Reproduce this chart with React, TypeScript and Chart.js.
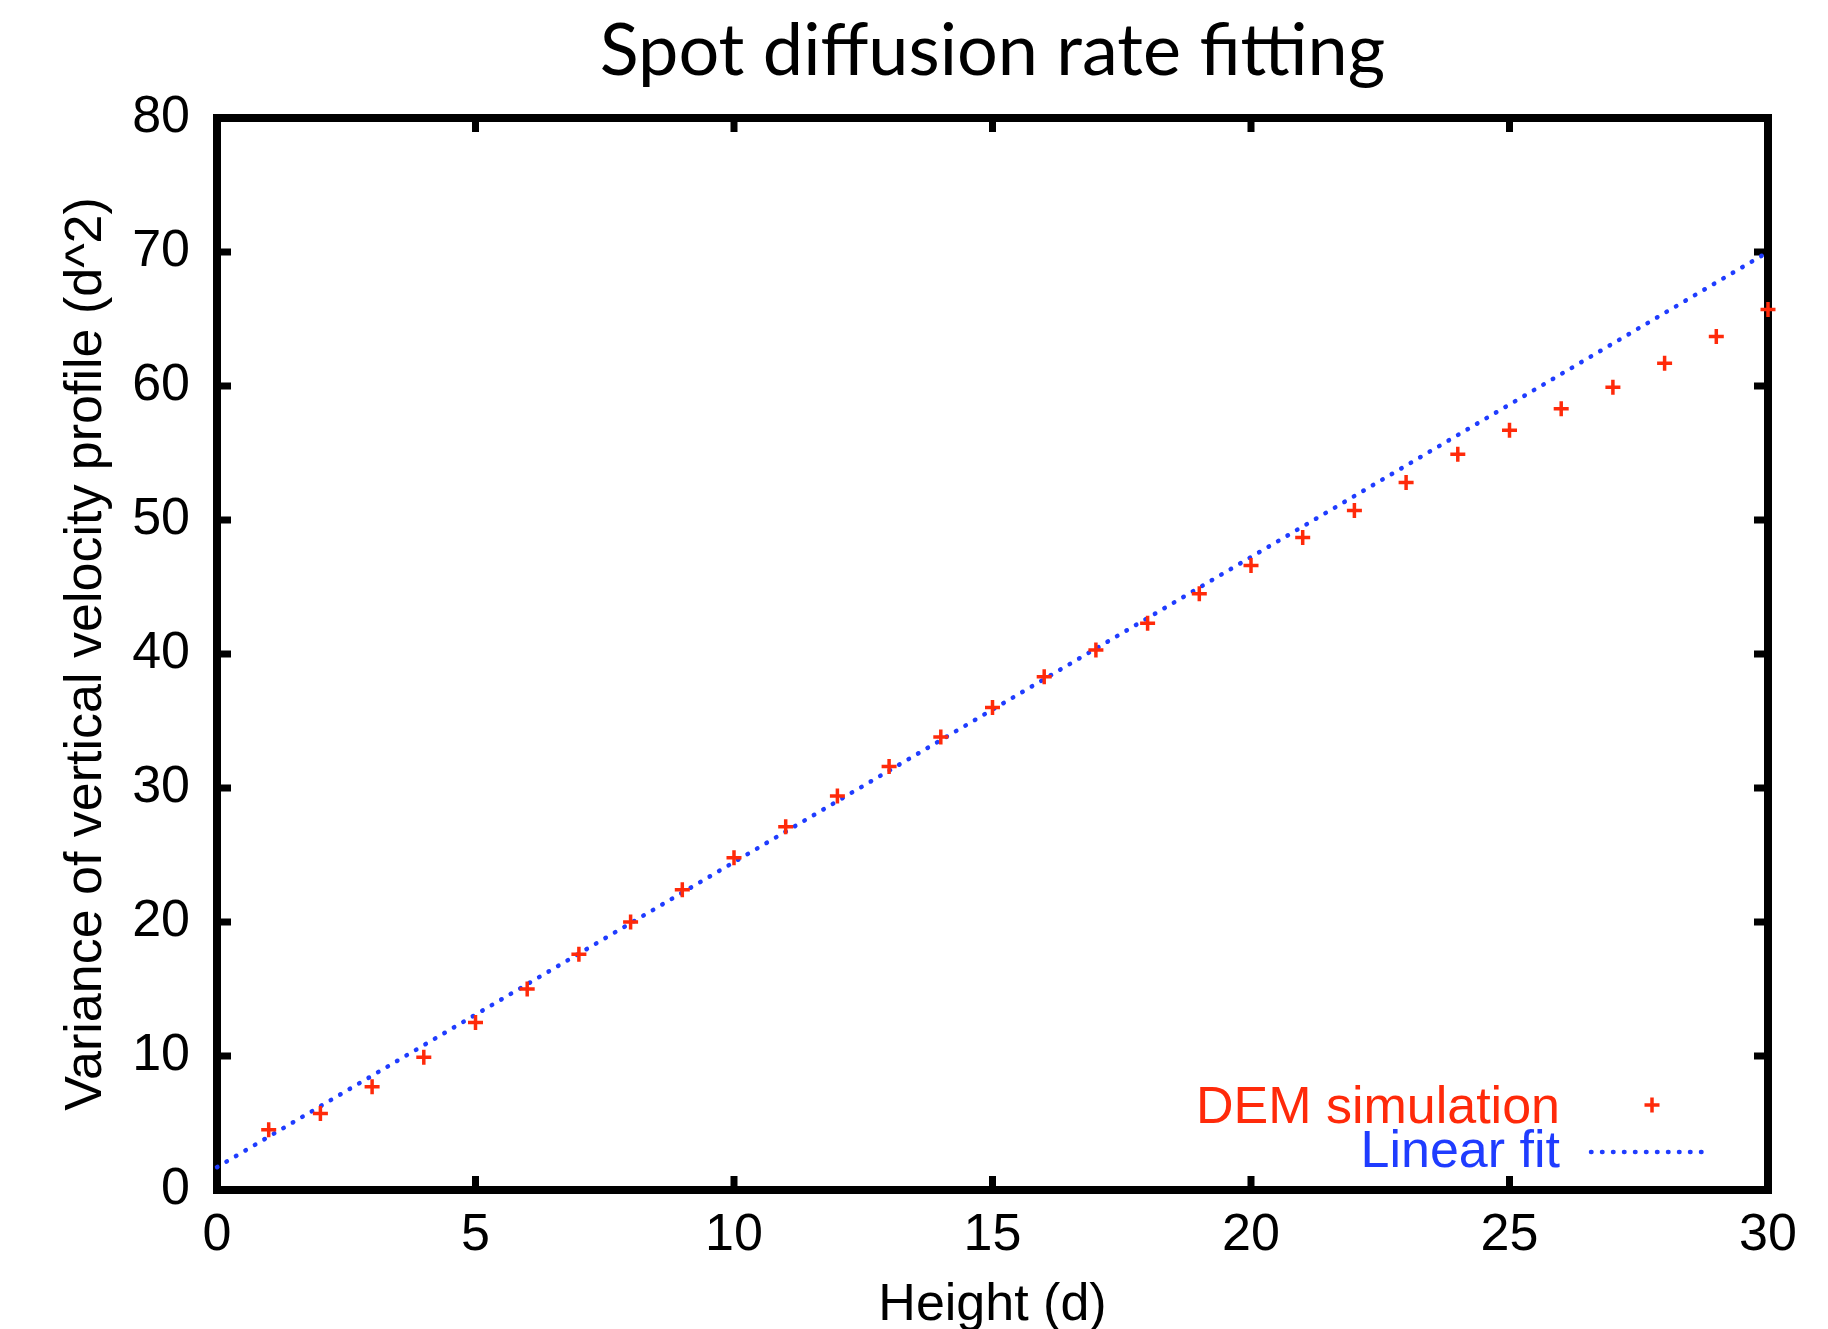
import { useEffect, useRef } from "react";
import { Chart, registerables } from "chart.js";

Chart.register(...registerables);

const chartTitle = "Spot diffusion rate fitting";
const xAxisTitle = "Height (d)";
const yAxisTitle = "Variance of vertical velocity profile (d^2)";
const seriesNames = ["DEM simulation", "Linear fit"];

const heights = [1, 2, 3, 4, 5, 6, 7, 8, 9, 10, 11, 12, 13, 14, 15, 16, 17, 18, 19, 20, 21, 22, 23, 24, 25, 26, 27, 28, 29, 30];
const demVariance = [4.5, 5.7, 7.7, 9.9, 12.5, 15.0, 17.6, 20.0, 22.4, 24.8, 27.1, 29.4, 31.6, 33.8, 36.0, 38.3, 40.3, 42.3, 44.5, 46.6, 48.7, 50.7, 52.8, 54.9, 56.7, 58.3, 59.9, 61.7, 63.7, 65.7];
const fitHeights = [0, 30];
const fitVariance = [1.7, 70.0];

const xTickValues = [0, 5, 10, 15, 20, 25, 30];
const yTickValues = [0, 10, 20, 30, 40, 50, 60, 70, 80];

const RED = "#ff2a0a";
const BLUE = "#1f3cff";
const AXIS_FONT = "'Liberation Sans', Arial, sans-serif";

const framePlugin = {
  id: "frameTicks",
  beforeDatasetsDraw(chart: any) {
    const { ctx, chartArea } = chart;
    const { left, right, top, bottom } = chartArea;
    const xs = chart.scales.x;
    const ys = chart.scales.y;
    const tickLen = 14;
    ctx.save();
    ctx.strokeStyle = "#000";
    ctx.lineWidth = 7;
    ctx.lineCap = "butt";
    ctx.beginPath();
    xTickValues.forEach((v) => {
      const px = xs.getPixelForValue(v);
      ctx.moveTo(px, bottom);
      ctx.lineTo(px, bottom - tickLen);
      ctx.moveTo(px, top);
      ctx.lineTo(px, top + tickLen);
    });
    yTickValues.forEach((v) => {
      const py = ys.getPixelForValue(v);
      ctx.moveTo(left, py);
      ctx.lineTo(left + tickLen, py);
      ctx.moveTo(right, py);
      ctx.lineTo(right - tickLen, py);
    });
    ctx.stroke();
    ctx.lineWidth = 8;
    ctx.lineJoin = "miter";
    ctx.strokeRect(left, top, right - left, bottom - top);
    ctx.restore();
  },
};

const legendPlugin = {
  id: "insideLegend",
  afterDatasetsDraw(chart: any) {
    const { ctx, chartArea } = chart;
    const textRight = chartArea.right - 208;
    const sampleLeft = chartArea.right - 177;
    const sampleRight = chartArea.right - 60;
    const sampleMid = chartArea.right - 116;
    const baselines = [chartArea.bottom - 67, chartArea.bottom - 23];
    const mids = [chartArea.bottom - 85, chartArea.bottom - 38];
    ctx.save();
    ctx.font = `52px ${AXIS_FONT}`;
    ctx.textAlign = "right";
    ctx.textBaseline = "alphabetic";
    chart.data.datasets.forEach((ds: any, i: number) => {
      ctx.fillStyle = ds.borderColor;
      ctx.fillText(ds.label, textRight, baselines[i]);
      const y = mids[i];
      if (i === 0) {
        ctx.strokeStyle = ds.borderColor;
        ctx.lineWidth = 3.5;
        ctx.beginPath();
        ctx.moveTo(sampleMid - 7.5, y);
        ctx.lineTo(sampleMid + 7.5, y);
        ctx.moveTo(sampleMid, y - 7.5);
        ctx.lineTo(sampleMid, y + 7.5);
        ctx.stroke();
      } else {
        ctx.strokeStyle = ds.borderColor;
        ctx.lineWidth = 4.5;
        ctx.lineCap = "round";
        ctx.setLineDash([0.5, 10.5]);
        ctx.beginPath();
        ctx.moveTo(sampleLeft, y);
        ctx.lineTo(sampleRight, y);
        ctx.stroke();
        ctx.setLineDash([]);
      }
    });
    ctx.restore();
  },
};

export default function App() {
  const ref = useRef<HTMLCanvasElement | null>(null);

  useEffect(() => {
    if (!ref.current) return;
    const chart = new Chart(ref.current, {
      type: "scatter",
      data: {
        datasets: [
          {
            label: seriesNames[0],
            data: heights.map((h, i) => ({ x: h, y: demVariance[i] })),
            pointStyle: "cross",
            pointRadius: 7.5,
            pointBorderWidth: 3.5,
            borderColor: RED,
            backgroundColor: RED,
            showLine: false,
            clip: false as any,
            order: 1,
          },
          {
            type: "line" as any,
            label: seriesNames[1],
            data: fitHeights.map((h, i) => ({ x: h, y: fitVariance[i] })),
            borderColor: BLUE,
            backgroundColor: BLUE,
            borderWidth: 4.5,
            borderDash: [0.5, 10.5],
            borderCapStyle: "round",
            pointRadius: 0,
            showLine: true,
            fill: false,
            clip: false as any,
            order: 2,
          },
        ],
      },
      options: {
        responsive: false,
        animation: false,
        layout: { padding: { left: 0, right: 52, top: 0, bottom: 0 } },
        plugins: {
          legend: { display: false },
          tooltip: { enabled: false },
          title: {
            display: true,
            text: chartTitle,
            fullSize: false,
            color: "#000",
            font: { family: "Lato, 'Open Sans', sans-serif", size: 72, weight: "normal", lineHeight: 1.2 },
            padding: { top: 1, bottom: 22.6 },
          },
        },
        scales: {
          x: {
            type: "linear",
            min: 0,
            max: 30,
            afterBuildTicks: (scale: any) => {
              scale.ticks = xTickValues.map((v) => ({ value: v }));
            },
            afterFit: (scale: any) => {
              scale.height = 139;
            },
            grid: { display: false, drawTicks: false },
            border: { display: false },
            ticks: {
              color: "#000",
              padding: 14,
              maxRotation: 0,
              font: { family: AXIS_FONT, size: 52, lineHeight: 1.2 },
            },
            title: {
              display: true,
              text: xAxisTitle,
              color: "#000",
              font: { family: AXIS_FONT, size: 52, lineHeight: 0.9 },
              padding: { top: 0, bottom: 0 },
            },
          },
          y: {
            type: "linear",
            min: 0,
            max: 80,
            afterBuildTicks: (scale: any) => {
              scale.ticks = yTickValues.map((v) => ({ value: v }));
            },
            afterFit: (scale: any) => {
              scale.width = 209;
            },
            grid: { display: false, drawTicks: false },
            border: { display: false },
            ticks: {
              color: "#000",
              padding: 27,
              font: { family: AXIS_FONT, size: 52, lineHeight: 1.2 },
            },
            title: {
              display: true,
              text: yAxisTitle,
              color: "#000",
              font: { family: AXIS_FONT, size: 52, lineHeight: 1.08 },
              padding: { top: 51, bottom: 0 },
            },
          },
        },
      },
      plugins: [framePlugin, legendPlugin],
    });
    return () => chart.destroy();
  }, []);

  return <canvas ref={ref} width={1812} height={1321} style={{ display: "block" }} />;
}
